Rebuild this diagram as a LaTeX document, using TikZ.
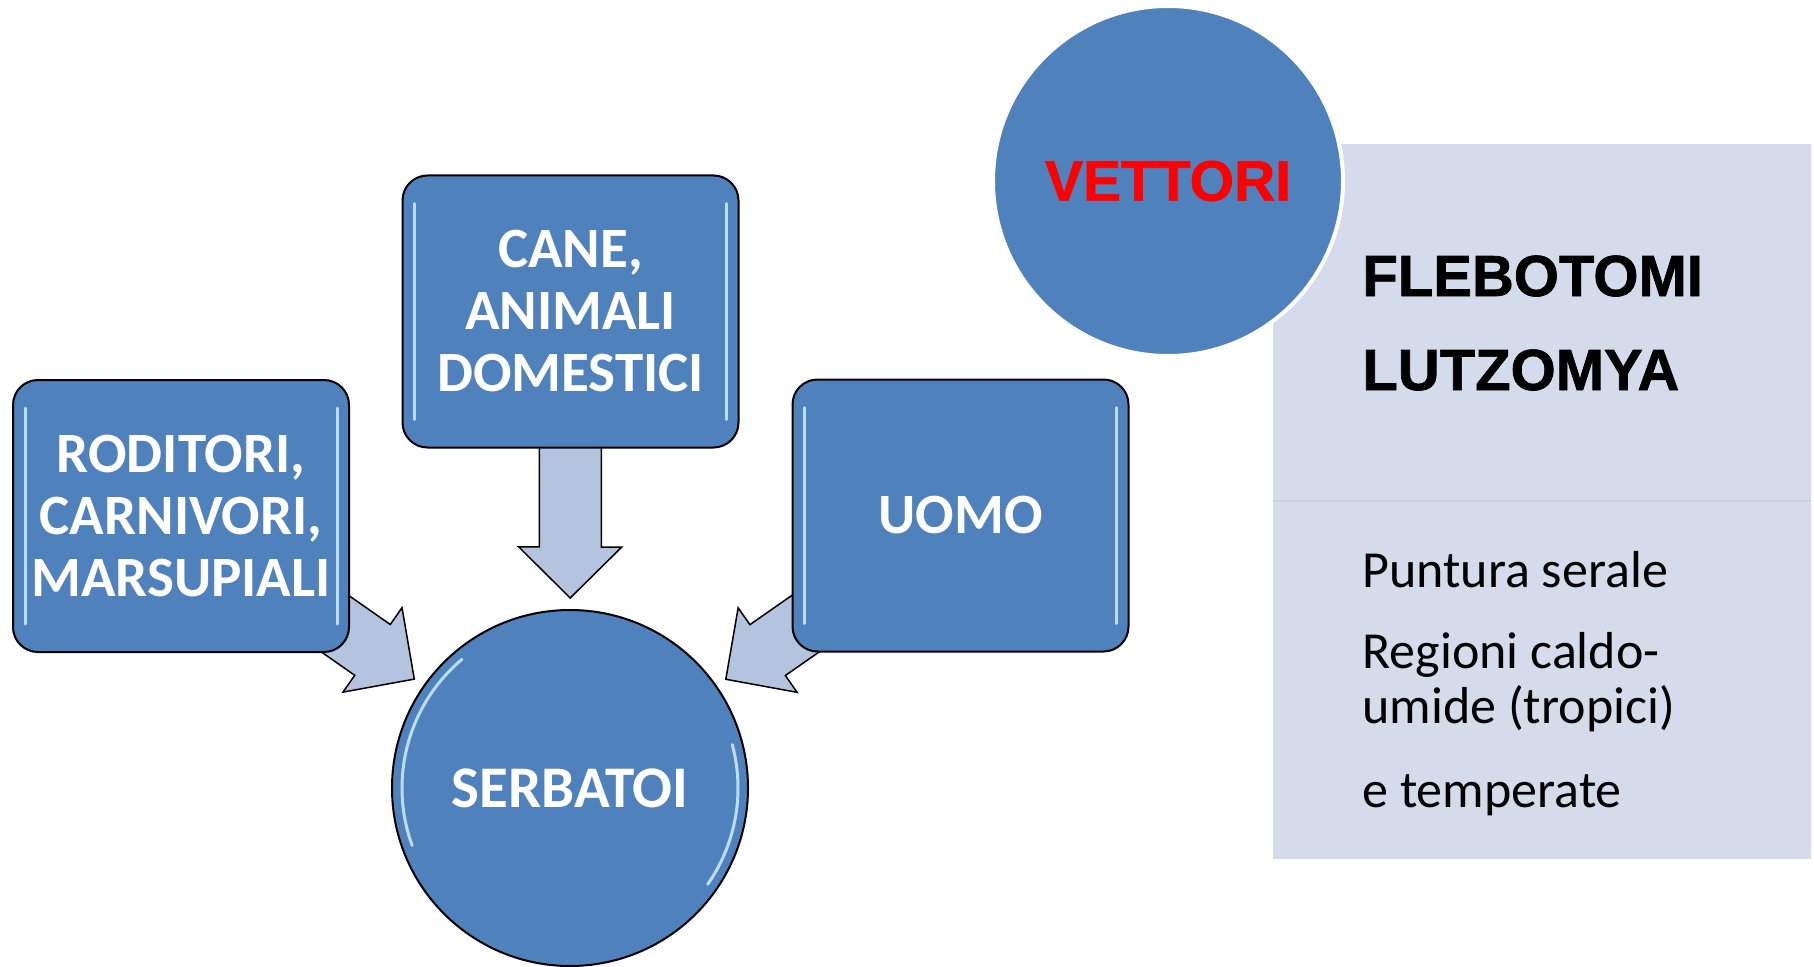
\documentclass[tikz,border=0pt]{standalone}
\usepackage{fontspec}
\setmainfont{Carlito}
\newfontfamily\arialfont{Liberation Sans}
\newfontfamily\heavyfont[FakeBold=1.2]{Liberation Sans Bold}
\usetikzlibrary{calc,backgrounds}

\definecolor{boxblue}{HTML}{4F81BD}
\definecolor{arrowfill}{HTML}{B4C3DE}
\definecolor{panelfill}{HTML}{D4DCEB}
\definecolor{panelline}{HTML}{CAD3E4}
\definecolor{glint}{HTML}{BCDDFA}

\tikzset{
  host/.style={draw=black, line width=1pt, fill=boxblue, rounded corners=12.5pt,
    minimum width=168pt, minimum height=136pt, inner sep=0pt, align=center,
    text=white, font=\bfseries\fontsize{28.5}{31}\selectfont,
    path picture={
      \draw[glint, line width=1.5pt, line cap=round]
        ([xshift=6pt,yshift=-14pt]path picture bounding box.north west) --
        ([xshift=6pt,yshift=14pt]path picture bounding box.south west);
      \draw[glint, line width=1.5pt, line cap=round]
        ([xshift=-6pt,yshift=-14pt]path picture bounding box.north east) --
        ([xshift=-6pt,yshift=14pt]path picture bounding box.south east);
    }},
  reservoir/.style={circle, draw=black, line width=1pt, fill=boxblue,
    minimum size=178pt, inner sep=0pt, text=white,
    font=\bfseries\fontsize{29.5}{31}\selectfont,
    path picture={
      \draw[glint, line width=1.5pt, line cap=round]
        (path picture bounding box.center) ++(130:84pt) arc[start angle=130, end angle=200, radius=84pt];
      \draw[glint, line width=1.5pt, line cap=round]
        (path picture bounding box.center) ++(-35:84pt) arc[start angle=-35, end angle=15, radius=84pt];
    }},
  feed/.style={fill=arrowfill, draw=black, line width=0.75pt, line join=miter},
  panel/.style={fill=panelfill, minimum width=269pt, minimum height=357.5pt, inner sep=0pt},
  vector/.style={circle, fill=boxblue, draw=white, line width=2pt, minimum size=175pt,
    inner sep=0pt, text=red, font=\heavyfont\fontsize{28.5}{30}\selectfont},
  bigname/.style={anchor=base west, inner sep=0pt, font=\heavyfont\fontsize{29}{30}\selectfont},
  note/.style={anchor=base west, inner sep=0pt, font=\fontsize{26}{28}\selectfont}
}

% block arrow from node #1 pointing at node #2
\newcommand\feedarrow[2]{%
  \filldraw[feed]
    ($(#2.center)!200pt!(#1.center)!15.5pt!90:(#1.center)$) --
    ($(#2.center)!120.5pt!(#1.center)!15.5pt!90:(#1.center)$) --
    ($(#2.center)!120.5pt!(#1.center)!25.75pt!90:(#1.center)$) --
    ($(#2.center)!95pt!(#1.center)$) --
    ($(#2.center)!120.5pt!(#1.center)!25.75pt!-90:(#1.center)$) --
    ($(#2.center)!120.5pt!(#1.center)!15.5pt!-90:(#1.center)$) --
    ($(#2.center)!200pt!(#1.center)!15.5pt!-90:(#1.center)$) -- cycle;}

\begin{document}
\begin{tikzpicture}[x=0.5pt,y=0.5pt]
\useasboundingbox (0,0) rectangle (1814,966);

% serbatoi
\node[host] (roditori) at (181,450) {RODITORI,\\CARNIVORI,\\MARSUPIALI};
\node[host] (cane) at (570.5,654.5) {CANE,\\ANIMALI\\DOMESTICI};
\node[host] (uomo) at (960.5,450.5) {UOMO};
\node[reservoir] (serbatoi) at (570,178) {SERBATOI};
\begin{scope}[on background layer]
  \foreach \src in {roditori,cane,uomo}
    \feedarrow{\src}{serbatoi};
\end{scope}

% vettori
\node[panel] (pannello) at (1542,464.5) {};
\draw[panelline, line width=1pt] (1273,465) -- (1811,465);
\node[vector] (vettori) at (1168,785) {VETTORI};
\node[bigname] (flebotomi) at (1362,670) {FLEBOTOMI};
\node[bigname] (lutzomya) at (1362,576) {LUTZOMYA};
\node[note] (puntura) at (1362,379) {Puntura serale};
\node[note] (regioni) at (1362,298) {Regioni caldo-};
\node[note] (umide) at (1362,243) {umide (tropici)};
\node[note] (temperate) at (1362,159) {e temperate};
\end{tikzpicture}
\end{document}
